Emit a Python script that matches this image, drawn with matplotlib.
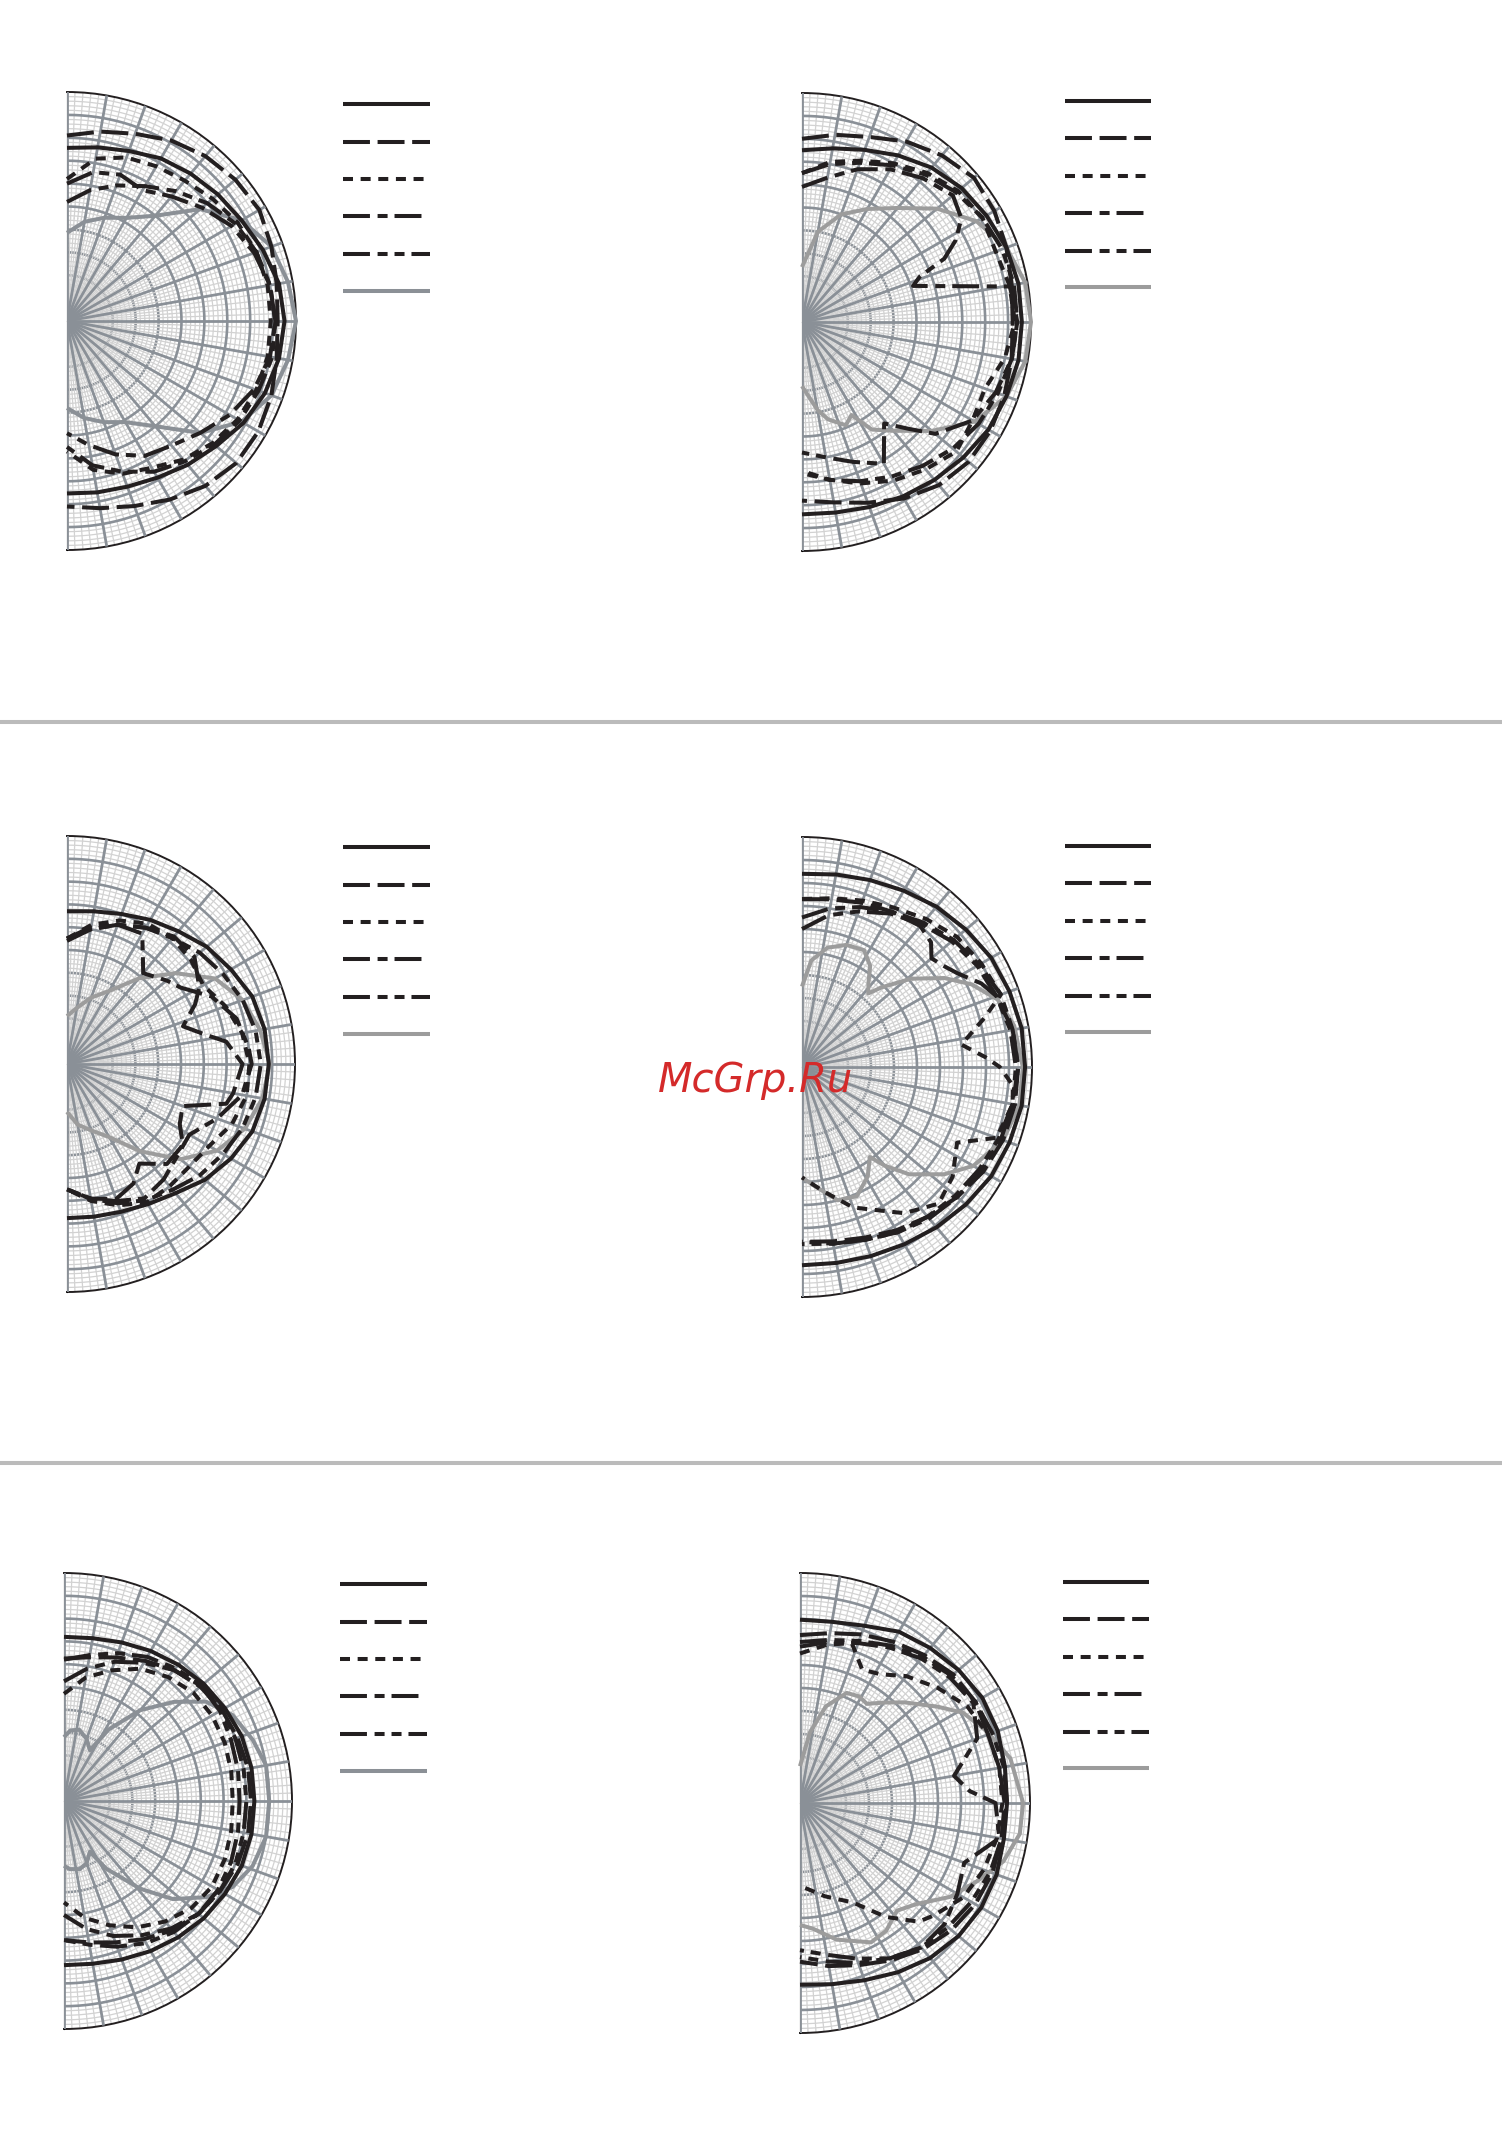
import numpy as np
import matplotlib
matplotlib.use("Agg")
import matplotlib.pyplot as plt
from matplotlib.lines import Line2D

W, H = 1502, 2154
plt.rcParams['lines.scale_dashes'] = False
plt.rcParams['font.family'] = ['DejaVu Sans']

# common angle list (degrees), top to bottom
ANG = [90, 80, 70, 60, 50, 40, 30, 20, 10, 0, -10, -20, -30, -40, -50, -60, -70, -80, -90]

# ---- panel 1 (top left)
p1_solid = [0.756, 0.77, 0.79, 0.82, 0.84, 0.86, 0.88, 0.91, 0.94, 0.95, 0.94, 0.92, 0.89, 0.85, 0.82, 0.79, 0.77, 0.76, 0.753]
p1_dash = [0.81, 0.84, 0.87, 0.91, 0.94, 0.96, 0.97, 0.95, 0.93, 0.92, 0.93, 0.95, 0.965, 0.965, 0.94, 0.90, 0.86, 0.83, 0.81]
p1_dot = [0.62, 0.72, 0.76, 0.78, 0.80, 0.83, 0.86, 0.88, 0.89, 0.89, 0.89, 0.88, 0.86, 0.83, 0.79, 0.74, 0.71, 0.66, 0.57]
p1_dashdot = [0.60, 0.66, 0.68, 0.66, 0.71, 0.77, 0.83, 0.87, 0.90, 0.91, 0.90, 0.87, 0.82, 0.76, 0.71, 0.68, 0.62, 0.55, 0.49]
p1_dashdot2 = [0.52, 0.58, 0.63, 0.68, 0.74, 0.80, 0.85, 0.88, 0.90, 0.91, 0.91, 0.89, 0.87, 0.84, 0.80, 0.76, 0.70, 0.64, 0.55]
p1_gray = [0.385, 0.44, 0.48, 0.52, 0.60, 0.76, 0.88, 0.95, 0.98, 1.0, 0.98, 0.95, 0.88, 0.76, 0.60, 0.51, 0.47, 0.43, 0.38]

# ---- panel 2 (top right)
p2_solid = [0.75, 0.77, 0.80, 0.84, 0.88, 0.91, 0.93, 0.95, 0.96, 0.96, 0.96, 0.95, 0.94, 0.92, 0.90, 0.88, 0.86, 0.845, 0.84]
p2_dash = [0.80, 0.83, 0.86, 0.91, 0.95, 0.98, 0.97, 0.95, 0.93, 0.92, 0.93, 0.94, 0.95, 0.95, 0.93, 0.89, 0.84, 0.80, 0.78]
p2_dot = [0.65, 0.71, 0.75, 0.80, 0.85, 0.89, 0.91, 0.90, 0.92, 0.93, 0.90, 0.85, 0.86, 0.88, 0.84, 0.80, 0.75, 0.70, 0.65]
p2_dashdot_ang = [90, 80, 70, 60, 50, 40, 33, 28, 24, 21, 18, 9.7, 5, 0, -10, -20, -30, -40, -45, -51, -60, -70, -80, -90]
p2_dashdot = [0.59, 0.64, 0.71, 0.77, 0.82, 0.86, 0.83, 0.76, 0.68, 0.55, 0.51, 0.92, 0.93, 0.94, 0.93, 0.90, 0.86, 0.76, 0.66, 0.57, 0.715, 0.65, 0.60, 0.57]
p2_dashdot2 = [0.65, 0.70, 0.74, 0.79, 0.84, 0.88, 0.91, 0.93, 0.94, 0.94, 0.93, 0.91, 0.89, 0.86, 0.82, 0.78, 0.74, 0.70, 0.66]
p2_gray_ang = [90, 80, 70, 60, 50, 40, 30, 20, 10, 0, -10, -20, -30, -40, -50, -57, -62, -67, -75, -80, -90]
p2_gray = [0.24, 0.40, 0.50, 0.57, 0.65, 0.77, 0.88, 0.95, 0.99, 1.0, 0.99, 0.95, 0.87, 0.74, 0.62, 0.56, 0.46, 0.49, 0.44, 0.39, 0.28]

# ---- panel 3 (middle left)
p3_solid = [0.67, 0.68, 0.70, 0.73, 0.76, 0.80, 0.83, 0.865, 0.88, 0.885, 0.88, 0.865, 0.83, 0.79, 0.74, 0.71, 0.69, 0.68, 0.676]
p3_dash_ang = [90, 80, 70, 60, 50, 40, 30, 25, 18, 12, 8, 0, -10, -14, -20, -28, -35, -45, -54, -61, -70, -80, -90]
p3_dash = [0.54, 0.60, 0.65, 0.69, 0.73, 0.73, 0.67, 0.62, 0.535, 0.62, 0.705, 0.77, 0.74, 0.72, 0.54, 0.56, 0.62, 0.62, 0.54, 0.60, 0.63, 0.60, 0.55]
p3_dot = [0.55, 0.62, 0.67, 0.71, 0.72, 0.71, 0.69, 0.74, 0.78, 0.80, 0.80, 0.77, 0.72, 0.70, 0.70, 0.70, 0.66, 0.61, 0.55]
p3_dashdot_ang = [90, 80, 70, 60, 55, 50, 40, 34, 25, 15, 5, 0, -10, -20, -30, -40, -50, -60, -70, -80, -90]
p3_dashdot = [0.55, 0.61, 0.65, 0.66, 0.58, 0.52, 0.57, 0.60, 0.70, 0.77, 0.80, 0.81, 0.78, 0.70, 0.62, 0.63, 0.66, 0.68, 0.64, 0.60, 0.55]
p3_dashdot2 = [0.55, 0.60, 0.65, 0.69, 0.72, 0.76, 0.79, 0.82, 0.84, 0.85, 0.84, 0.82, 0.79, 0.76, 0.72, 0.69, 0.65, 0.60, 0.55]
p3_gray = [0.21, 0.25, 0.31, 0.37, 0.49, 0.62, 0.75, 0.82, 0.86, 0.89, 0.87, 0.83, 0.76, 0.65, 0.50, 0.37, 0.31, 0.27, 0.21]

# ---- panel 4 (middle right)
p4_solid = [0.84, 0.85, 0.865, 0.885, 0.91, 0.93, 0.95, 0.96, 0.97, 0.97, 0.97, 0.96, 0.95, 0.93, 0.91, 0.89, 0.875, 0.865, 0.862]
p4_dash_ang = [90, 80, 70, 60, 50, 44, 40, 35, 31, 25, 20, 10, 0, -10, -20, -30, -40, -50, -60, -70, -80, -90]
p4_dash = [0.73, 0.74, 0.76, 0.78, 0.80, 0.78, 0.735, 0.76, 0.79, 0.86, 0.90, 0.93, 0.94, 0.94, 0.93, 0.91, 0.88, 0.85, 0.82, 0.79, 0.77, 0.76]
p4_dot_ang = [90, 80, 70, 60, 50, 40, 30, 20, 15, 8, 3, 0, -5, -10, -20, -26, -36, -45, -55, -70, -80, -90]
p4_dot = [0.73, 0.745, 0.77, 0.80, 0.84, 0.88, 0.90, 0.92, 0.82, 0.70, 0.80, 0.86, 0.92, 0.93, 0.90, 0.75, 0.81, 0.84, 0.776, 0.65, 0.55, 0.48]
p4_dashdot = [0.65, 0.70, 0.74, 0.78, 0.82, 0.86, 0.89, 0.92, 0.93, 0.94, 0.93, 0.92, 0.90, 0.88, 0.86, 0.83, 0.80, 0.78, 0.77]
p4_dashdot2 = [0.60, 0.67, 0.72, 0.77, 0.81, 0.85, 0.88, 0.90, 0.92, 0.93, 0.93, 0.91, 0.89, 0.87, 0.85, 0.83, 0.80, 0.78, 0.76]
p4_gray_ang = [90, 85, 78, 70, 62, 56, 52, 48, 45, 39, 32, 26, 19, 11, 0, -10, -20, -30, -37, -45, -50, -53, -59, -67, -75, -84, -90]
p4_gray = [0.35, 0.465, 0.53, 0.565, 0.575, 0.53, 0.47, 0.43, 0.49, 0.61, 0.73, 0.82, 0.90, 0.94, 0.96, 0.96, 0.93, 0.86, 0.775, 0.66, 0.56, 0.49, 0.555, 0.61, 0.60, 0.52, 0.48]

# ---- panel 5 (bottom left)
p5_solid = [0.72, 0.725, 0.74, 0.76, 0.78, 0.80, 0.815, 0.83, 0.835, 0.835, 0.835, 0.83, 0.815, 0.80, 0.78, 0.76, 0.74, 0.725, 0.72]
p5_dash = [0.625, 0.64, 0.67, 0.71, 0.75, 0.78, 0.80, 0.81, 0.82, 0.82, 0.82, 0.81, 0.79, 0.77, 0.74, 0.70, 0.66, 0.63, 0.61]
p5_dot = [0.47, 0.55, 0.61, 0.67, 0.71, 0.74, 0.75, 0.75, 0.745, 0.74, 0.745, 0.75, 0.75, 0.73, 0.69, 0.64, 0.58, 0.52, 0.445]
p5_dashdot = [0.525, 0.59, 0.65, 0.70, 0.75, 0.785, 0.79, 0.78, 0.775, 0.77, 0.775, 0.78, 0.78, 0.77, 0.73, 0.68, 0.63, 0.57, 0.50]
p5_dashdot2 = [0.62, 0.65, 0.69, 0.73, 0.76, 0.79, 0.80, 0.80, 0.80, 0.80, 0.80, 0.80, 0.79, 0.77, 0.75, 0.72, 0.68, 0.64, 0.61]
p5_gray_ang = [90, 85, 78, 70, 63, 58, 50, 42, 35, 27, 18, 10, 0, -10, -19, -27, -34, -42, -49, -58, -63, -70, -77, -85, -90]
p5_gray = [0.28, 0.31, 0.32, 0.29, 0.25, 0.37, 0.52, 0.65, 0.76, 0.83, 0.87, 0.90, 0.90, 0.90, 0.875, 0.83, 0.754, 0.643, 0.51, 0.35, 0.25, 0.29, 0.307, 0.30, 0.284]

# ---- panel 6 (bottom right)
p6_solid = [0.797, 0.80, 0.82, 0.86, 0.88, 0.90, 0.915, 0.915, 0.905, 0.90, 0.90, 0.91, 0.91, 0.90, 0.88, 0.85, 0.82, 0.80, 0.79]
p6_dash = [0.73, 0.75, 0.78, 0.81, 0.84, 0.87, 0.88, 0.87, 0.88, 0.89, 0.89, 0.89, 0.88, 0.86, 0.83, 0.79, 0.75, 0.72, 0.69]
p6_dot_ang = [90, 80, 72, 65, 58, 50, 40, 30, 20, 10, 0, -10, -20, -30, -40, -45, -53, -62, -75, -90]
p6_dot = [0.65, 0.70, 0.73, 0.64, 0.66, 0.72, 0.78, 0.84, 0.87, 0.88, 0.88, 0.87, 0.85, 0.82, 0.76, 0.73, 0.62, 0.49, 0.42, 0.36]
p6_dashdot_ang = [90, 80, 70, 60, 50, 40, 30, 20, 10, 4, 0, -10, -20, -30, -40, -50, -60, -70, -80, -90]
p6_dashdot = [0.68, 0.71, 0.74, 0.78, 0.82, 0.85, 0.87, 0.82, 0.68, 0.74, 0.85, 0.88, 0.76, 0.79, 0.82, 0.82, 0.78, 0.72, 0.67, 0.64]
p6_dashdot2 = [0.70, 0.72, 0.75, 0.79, 0.83, 0.86, 0.88, 0.89, 0.90, 0.90, 0.89, 0.88, 0.86, 0.84, 0.82, 0.78, 0.74, 0.70, 0.67]
p6_gray_ang = [90, 82, 75, 67, 61, 56, 50, 44, 35, 29, 21, 12, 0, -8, -16, -24, -32, -41, -48, -56, -63, -75, -84, -90]
p6_gray = [0.16, 0.31, 0.435, 0.52, 0.53, 0.52, 0.57, 0.63, 0.73, 0.81, 0.87, 0.935, 0.97, 0.965, 0.92, 0.84, 0.77, 0.67, 0.63, 0.67, 0.68, 0.615, 0.55, 0.53]

BLACK = '#231f20'
DARK = '#8a9097'
LIGHT = '#d2d2d2'
DASH = (0, (19.4, 5.5))
DOT = (0, (7.2, 5.5))
DASHDOT = (0, (19.4, 5.5, 7.2, 5.0))
DASHDOT2 = (0, (19.4, 5.5, 7.2, 5.0, 7.2, 5.0))
LW = 2.9

fig = plt.figure(figsize=(W / 100, H / 100), dpi=100)


def draw_grid(ax):
    th = np.radians(np.linspace(-90, 90, 361))
    for k in range(1, 50):
        if k % 5:
            ax.plot(th, np.full_like(th, k * 0.02), color=LIGHT, lw=0.9, zorder=1)
    fine = [np.radians(a) for a in range(-88, 89, 2) if a % 10]
    for a in fine:
        ax.plot([a, a], [0.45, 1.0], color=LIGHT, lw=0.9, zorder=1)
    for k in range(1, 10):
        ax.plot(th, np.full_like(th, k * 0.1), color=DARK, lw=1.9, zorder=2)
    for a in fine:
        ax.plot([a, a], [0.04, 0.45], color=LIGHT, lw=0.9, zorder=2.5)
    for a in range(-90, 91, 10):
        ax.plot([np.radians(a)] * 2, [0, 1], color=DARK, lw=2.0, zorder=3)


def panel(cx, cy, R, curves, gray_col, leg_x, leg_y):
    # square box; the half wedge is centred inside it
    ax = fig.add_axes([(cx - R / 2) / W, 1 - (cy + R) / H, 2 * R / W, 2 * R / H],
                      projection='polar')
    ax.set_thetamin(-90)
    ax.set_thetamax(90)
    ax.set_ylim(0, 1)
    ax.set_xticks([])
    ax.set_yticks([])
    ax.grid(False)
    for s in ['start', 'end', 'inner']:
        ax.spines[s].set_visible(False)
    ax.spines['polar'].set_color(BLACK)
    ax.spines['polar'].set_linewidth(1.4)
    draw_grid(ax)

    styles = ['-', DASH, DOT, DASHDOT, DASHDOT2, '-']
    colors = [BLACK] * 5 + [gray_col]
    # gray first, then black ones on top
    for i in [5, 4, 3, 2, 1, 0]:
        ang, r = curves[i]
        ax.plot(np.radians(ang), r, color=colors[i], ls=styles[i], lw=LW,
                zorder=5, clip_on=False, solid_capstyle='butt')

    # legend samples (no labels in the original)
    ends = [leg_x[1], leg_x[1], leg_x[1] - 3, leg_x[1] - 6, leg_x[1], leg_x[1]]
    for i in range(6):
        y = 1 - (cy + leg_y[i]) / H
        fig.add_artist(Line2D([(cx + leg_x[0]) / W, (cx + ends[i]) / W], [y, y],
                              color=colors[i], ls=styles[i], lw=LW,
                              solid_capstyle='butt', dash_capstyle='butt'))
    return ax


LEG_L_X = (276, 363)
LEG_L_Y = [-217, -179, -142, -105, -67, -30]
LEG_R_X = (263, 349)
LEG_R_Y = [-221, -184, -146, -109, -71, -35]

panel(67, 321, 229, [(ANG, p1_solid), (ANG, p1_dash), (ANG, p1_dot), (ANG, p1_dashdot),
                     (ANG, p1_dashdot2), (ANG, p1_gray)], '#8b9096', LEG_L_X, LEG_L_Y)
panel(802, 322, 229, [(ANG, p2_solid), (ANG, p2_dash), (ANG, p2_dot), (p2_dashdot_ang, p2_dashdot),
                      (ANG, p2_dashdot2), (p2_gray_ang, p2_gray)], '#9c9c9c', LEG_R_X, LEG_R_Y)
panel(67, 1064, 228, [(ANG, p3_solid), (p3_dash_ang, p3_dash), (ANG, p3_dot), (p3_dashdot_ang, p3_dashdot),
                      (ANG, p3_dashdot2), (ANG, p3_gray)], '#9c9c9c', LEG_L_X, LEG_L_Y)
panel(802, 1067, 230, [(ANG, p4_solid), (p4_dash_ang, p4_dash), (p4_dot_ang, p4_dot), (ANG, p4_dashdot),
                       (ANG, p4_dashdot2), (p4_gray_ang, p4_gray)], '#9c9c9c', LEG_R_X, LEG_R_Y)
panel(64, 1801, 228, [(ANG, p5_solid), (ANG, p5_dash), (ANG, p5_dot), (ANG, p5_dashdot),
                      (ANG, p5_dashdot2), (p5_gray_ang, p5_gray)], '#8b9096', LEG_L_X, LEG_L_Y)
panel(800, 1803, 230, [(ANG, p6_solid), (ANG, p6_dash), (p6_dot_ang, p6_dot), (p6_dashdot_ang, p6_dashdot),
                       (ANG, p6_dashdot2), (p6_gray_ang, p6_gray)], '#9c9c9c', LEG_R_X, LEG_R_Y)

# separators between rows
for ys in [722, 1463]:
    fig.add_artist(Line2D([2 / W, 1.0], [1 - ys / H] * 2, color='#bbbbbb', lw=2.9))

fig.text(756 / W, 1 - 1092 / H, 'McGrp.Ru', color='#d42a2a', fontsize=28.8,
         style='italic', ha='center', va='baseline', zorder=10)

fig.savefig('out.png', dpi=100)
